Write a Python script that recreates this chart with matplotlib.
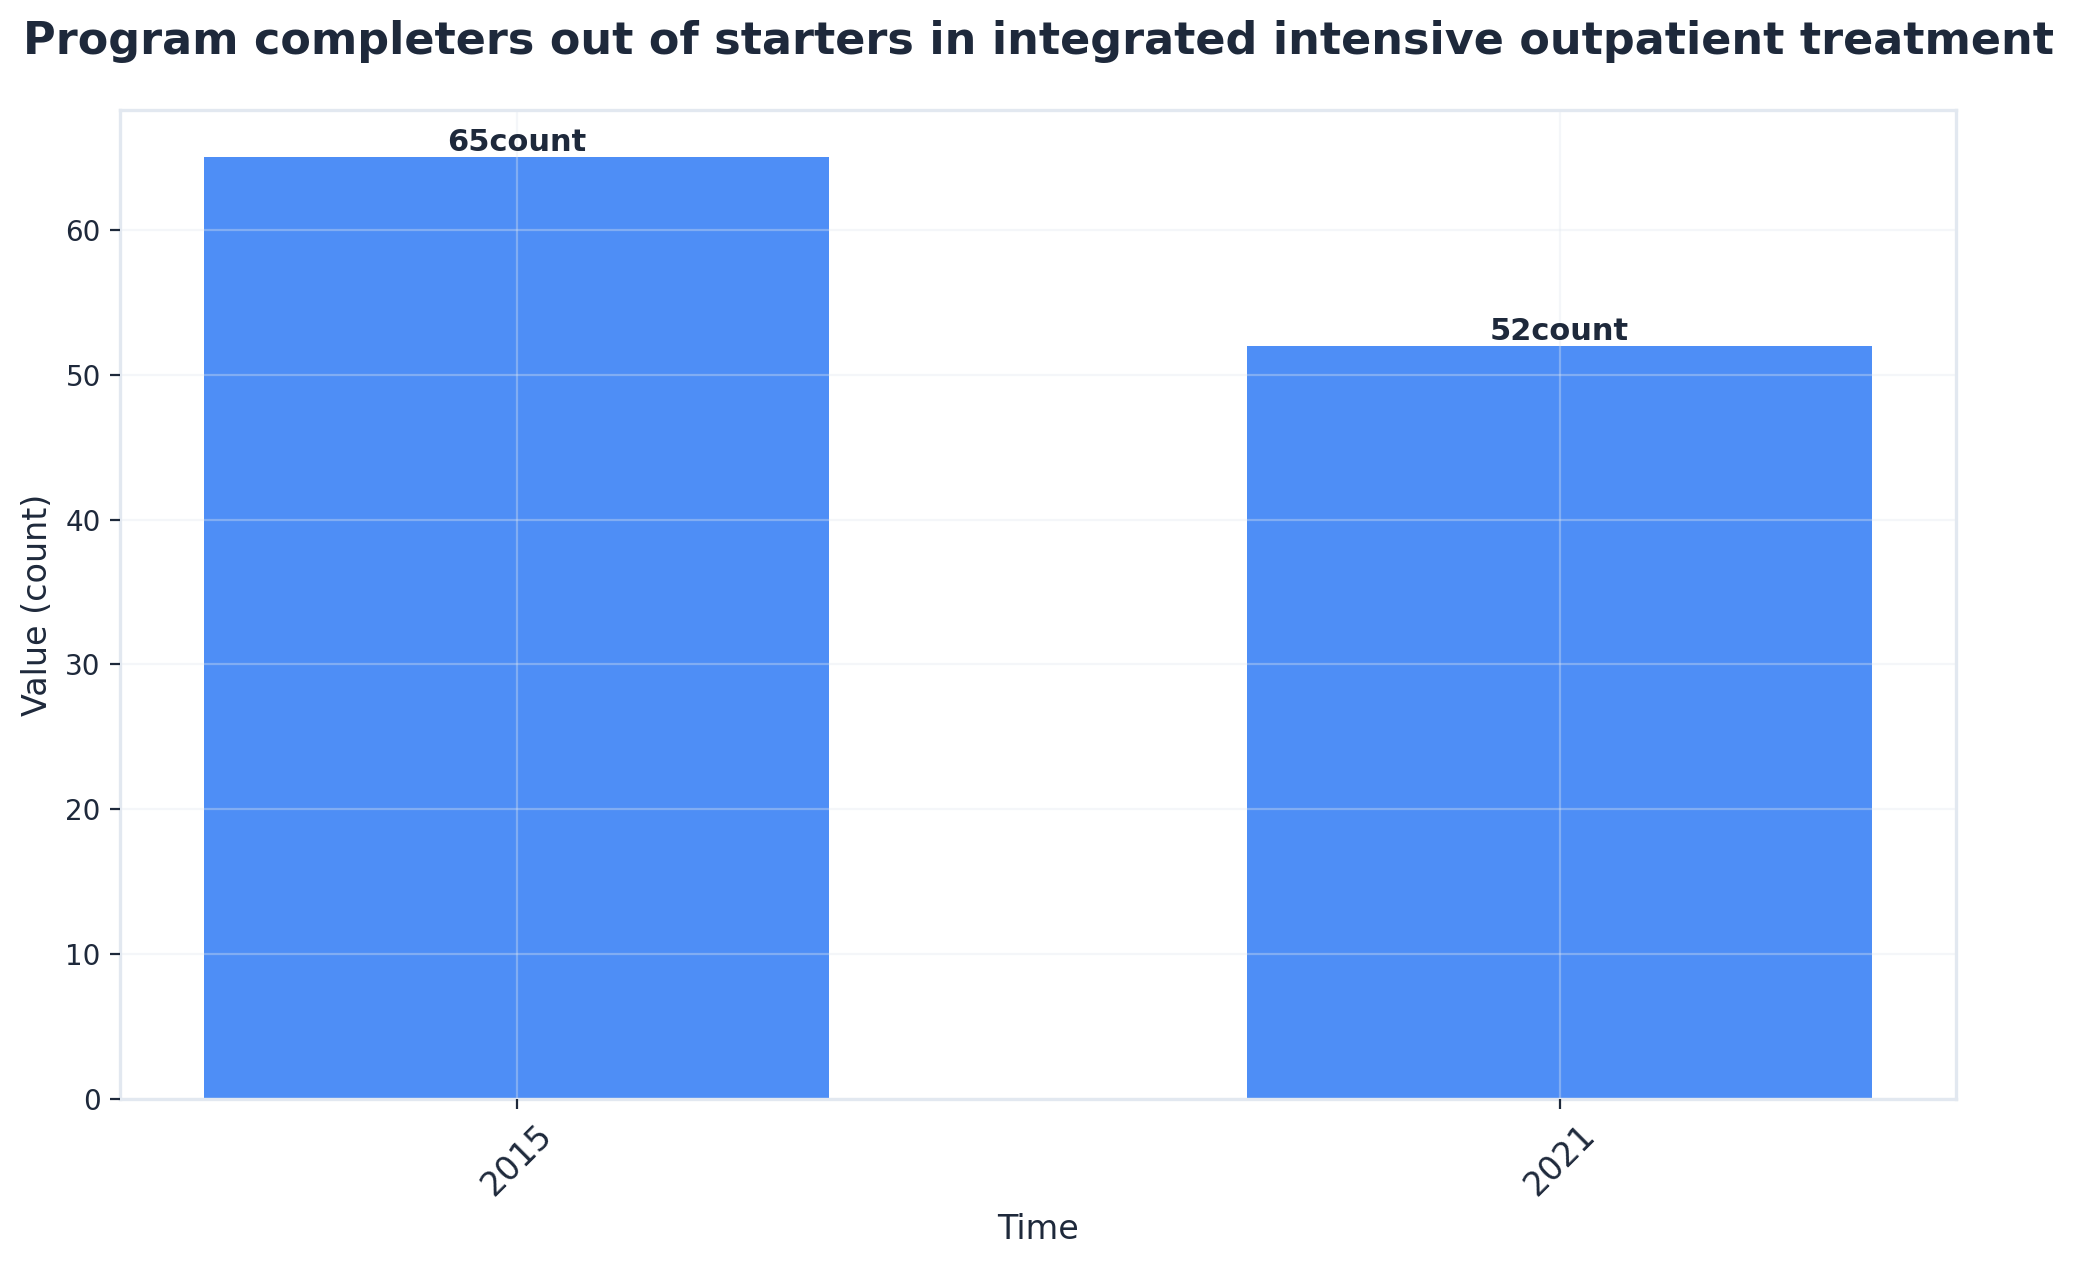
import matplotlib
matplotlib.use('Agg')
import matplotlib.pyplot as plt

# Data
years = ['2015', '2021']
values = [65, 52]
unit = 'count'

text_color = '#1e293b'
edge_color = '#e2e8f0'
bar_color = '#3b82f6'

fig, ax = plt.subplots(figsize=(10.365, 6.325), dpi=200)

bars = ax.bar(range(len(years)), values, width=0.6, color=bar_color, alpha=0.9, zorder=1)

# value labels above bars
for rect, v in zip(bars, values):
    ax.text(rect.get_x() + rect.get_width() / 2, rect.get_height(), f'{v}{unit}',
            ha='center', va='bottom', fontsize=11, fontweight='bold', color=text_color)

ax.set_xticks(range(len(years)))
ax.set_xticklabels(years, rotation=45, fontsize=12, color=text_color)
ax.tick_params(axis='y', labelsize=10, colors=text_color)
ax.tick_params(axis='x', colors=text_color)

ax.set_xlabel('Time', fontsize=12, color=text_color)
ax.set_ylabel('Value (count)', fontsize=12, color=text_color)
ax.set_title('Program completers out of starters in integrated intensive outpatient treatment',
             fontsize=16, fontweight='bold', color=text_color, pad=20)

ax.grid(True, color=edge_color, alpha=0.35, linewidth=0.8, zorder=2)
ax.set_axisbelow(False)
for s in ax.spines.values():
    s.set_color(edge_color)
    s.set_linewidth(1.2)

plt.subplots_adjust(left=0.058, right=0.9435, top=0.913, bottom=0.131)
plt.savefig('out.png', dpi=200)
